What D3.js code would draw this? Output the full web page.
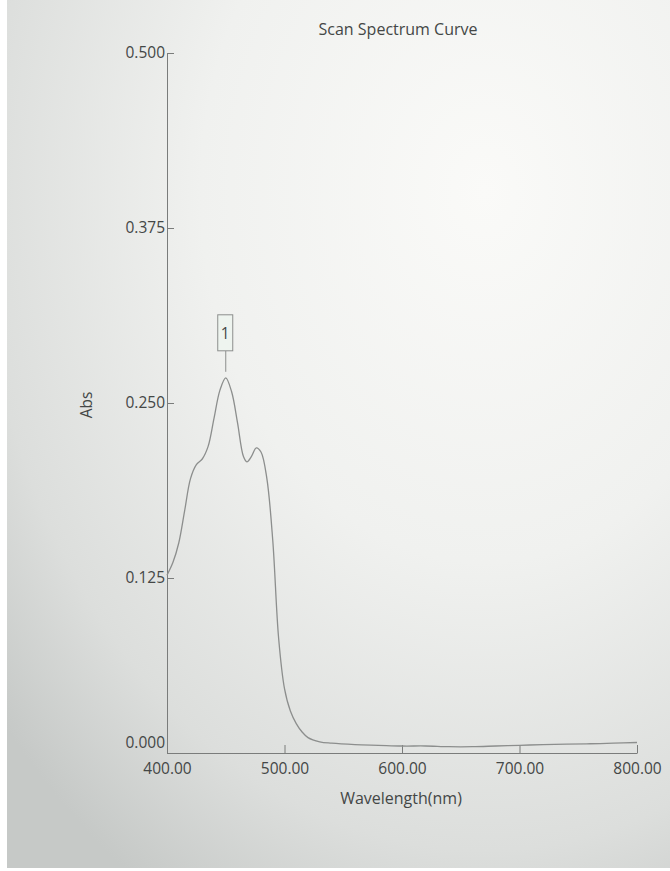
<!DOCTYPE html>
<html>
<head>
<meta charset="utf-8">
<script src="https://cdn.jsdelivr.net/npm/d3@7"></script>
<style>
  html, body { margin: 0; padding: 0; background: #fff; }
  svg { display: block; }
  text { font-family: "Open Sans", "Noto Sans", sans-serif; fill: #444746; }
</style>
</head>
<body>
<div id="chart"></div>
<script>
// Absorbance scan, 400–800 nm
const wavelengths = [400, 405, 410, 415, 420, 425, 430, 435, 440, 445, 450, 455, 460, 465, 468,
  472, 476, 480, 485, 490, 495, 500, 505, 510, 515, 520, 530, 540, 560, 580, 600, 620, 640, 660,
  680, 700, 720, 740, 760, 780, 800];
const absorbance = [0.127, 0.136, 0.150, 0.173, 0.196, 0.206, 0.210, 0.219, 0.239, 0.259, 0.268,
  0.258, 0.236, 0.212, 0.208, 0.212, 0.218, 0.215, 0.196, 0.152, 0.082, 0.046, 0.030, 0.021,
  0.015, 0.011, 0.008, 0.007, 0.006, 0.0055, 0.005, 0.005, 0.0045, 0.0045, 0.005, 0.0055, 0.006,
  0.0063, 0.0066, 0.007, 0.0075];
const xTicks = [400, 500, 600, 700, 800];
const yTicks = [0.000, 0.125, 0.250, 0.375, 0.500];
const peaks = [{ label: "1", wavelength: 450, abs: 0.268 }];

const W = 670, H = 871;
const svg = d3.select("#chart").append("svg").attr("width", W).attr("height", H);

// paper tone
const defs = svg.append("defs");
const g1 = defs.append("radialGradient").attr("id", "paper")
  .attr("cx", 0.72).attr("cy", 0.22).attr("r", 0.95);
g1.append("stop").attr("offset", "0%").attr("stop-color", "#fafaf8");
g1.append("stop").attr("offset", "45%").attr("stop-color", "#f0f1ef");
g1.append("stop").attr("offset", "80%").attr("stop-color", "#dcdedc");
g1.append("stop").attr("offset", "100%").attr("stop-color", "#c6c9c7");
svg.append("rect").attr("x", 7).attr("y", 0).attr("width", W - 7).attr("height", H - 3)
  .attr("fill", "url(#paper)");

const x = d3.scaleLinear().domain([400, 800]).range([167, 637]);
const y = d3.scaleLinear().domain([0, 0.5]).range([753, 53]);

const axisColor = "#7a7c7b";

// x axis
const xa = svg.append("g").attr("transform", `translate(0,${y(0)})`)
  .call(d3.axisBottom(x).tickValues(xTicks).tickSizeInner(-8).tickSizeOuter(0)
    .tickPadding(10).tickFormat(d3.format(".2f")));
xa.select(".domain").attr("stroke", axisColor);
xa.selectAll(".tick line").attr("stroke", axisColor);
xa.selectAll(".tick text").attr("font-size", 15.5).attr("fill", "#444746")
  .attr("font-family", "'Open Sans', sans-serif");

// y axis
const ya = svg.append("g").attr("transform", `translate(${x(400)},0)`)
  .call(d3.axisLeft(y).tickValues(yTicks).tickSizeInner(-7).tickSizeOuter(0)
    .tickPadding(2).tickFormat(d3.format(".3f")));
ya.select(".domain").attr("stroke", axisColor);
ya.selectAll(".tick line").attr("stroke", axisColor);
ya.selectAll(".tick text").attr("font-size", 15.5).attr("fill", "#444746")
  .attr("font-family", "'Open Sans', sans-serif")
  .attr("dy", d => d === 0 ? "-0.35em" : "0.32em");

// spectrum
const line = d3.line().x((d, i) => x(wavelengths[i])).y(d => y(d))
  .curve(d3.curveCatmullRom.alpha(0.5));
svg.append("path").datum(absorbance).attr("d", line)
  .attr("fill", "none").attr("stroke", "#8c8e8d").attr("stroke-width", 1.3);

// peak marker
peaks.forEach(p => {
  const px = x(p.wavelength), py = y(p.abs);
  svg.append("line").attr("x1", px).attr("x2", px).attr("y1", py - 6).attr("y2", py - 27)
    .attr("stroke", "#8c8e8d");
  svg.append("rect").attr("x", px - 8).attr("y", py - 63).attr("width", 15).attr("height", 36)
    .attr("fill", "#eef4ef").attr("stroke", "#8c8e8d");
  svg.append("text").attr("x", px - 0.5).attr("y", py - 39).attr("text-anchor", "middle")
    .attr("font-size", 15.5).text(p.label);
});

// titles
svg.append("text").attr("x", 398).attr("y", 35).attr("text-anchor", "middle")
  .attr("font-size", 16).text("Scan Spectrum Curve");
svg.append("text").attr("x", 401).attr("y", 804).attr("text-anchor", "middle")
  .attr("font-size", 16).text("Wavelength(nm)");
svg.append("text").attr("transform", "translate(92,405) rotate(-90)").attr("text-anchor", "middle")
  .attr("font-size", 15.5).text("Abs");
</script>
</body>
</html>
